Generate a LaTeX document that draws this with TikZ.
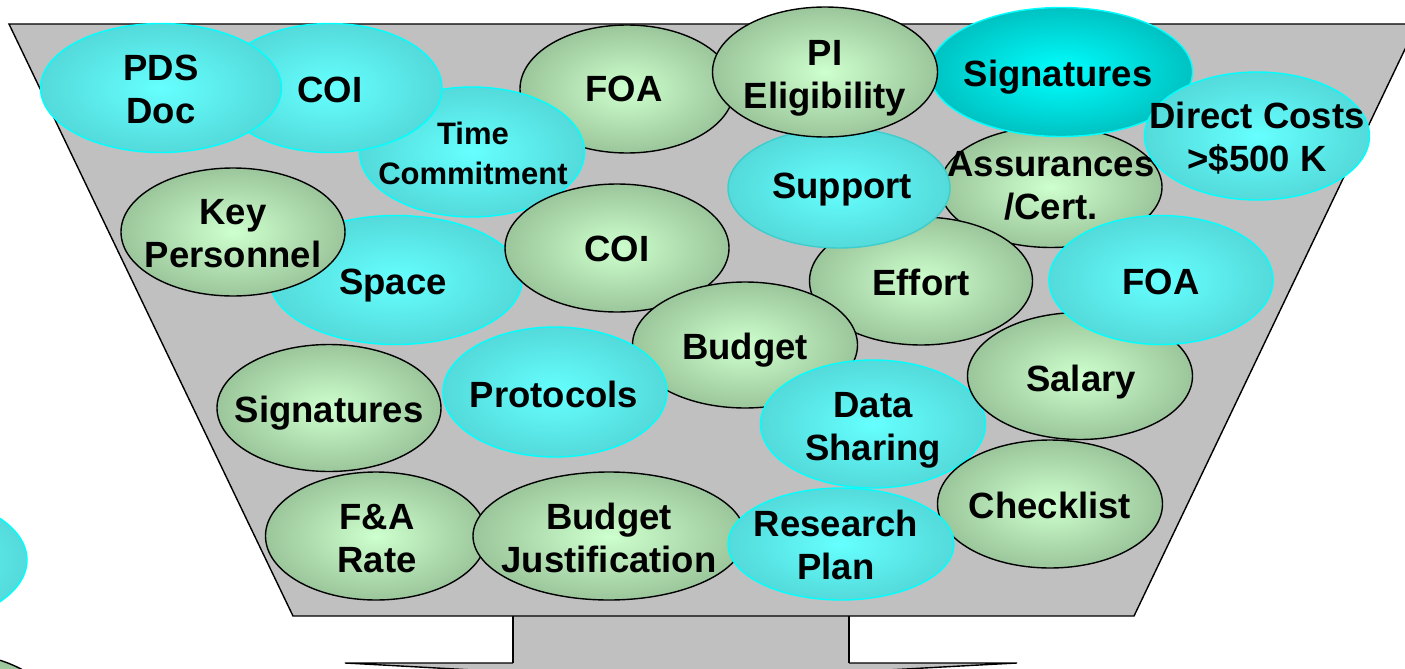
\documentclass[tikz,border=0pt]{standalone}
\usepackage{fontspec}
\setmainfont{Liberation Sans}
\usetikzlibrary{shapes.geometric}
\definecolor{fgray}{RGB}{192,192,192}
\definecolor{gin}{RGB}{206,255,206}
\definecolor{gout}{RGB}{155,198,155}
\definecolor{cin}{RGB}{102,255,255}
\definecolor{cout}{RGB}{84,218,218}
\definecolor{tin}{RGB}{0,255,255}
\definecolor{tout}{RGB}{0,194,194}
\definecolor{cline}{RGB}{0,255,255}
\definecolor{sline}{RGB}{60,205,205}
\begin{document}
\begin{tikzpicture}[x=1pt,y=-1pt,
  bub/.style={ellipse, inner sep=0pt, line width=1.4pt},
  gbub/.style={bub, draw=black, inner color=gin, outer color=gout},
  cbub/.style={bub, draw=cline, inner color=cin, outer color=cout},
  sbub/.style={bub, draw=sline, inner color=cin, outer color=cout},
  tbub/.style={bub, draw=cline, inner color=tin, outer color=tout},
  lbl/.style={align=center, inner sep=0pt, text depth=0pt, font=\bfseries\fontsize{36.5}{43}\selectfont},
  slbl/.style={align=center, inner sep=0pt, text depth=0pt, font=\bfseries\fontsize{31}{40}\selectfont},
  fun/.style={line width=1.4pt, draw=black, fill=fgray}
]
\useasboundingbox (0,0) rectangle (1405,669);
\clip (0,0) rectangle (1405,669);

% partial bubbles at the left edge
\node[cbub, minimum width=224pt, minimum height=128pt] (lc) at (-85,560) {};
\node[gbub, minimum width=224pt, minimum height=128pt] (lg) at (-55,716) {};

% base, stem, funnel
\draw[fun] (345,663) -- (1017,663) .. controls (900,669) and (800,676) .. (681,677) .. controls (560,676) and (460,669) .. (345,663) -- cycle;
\fill[fgray] (513,610) rectangle (849,675);
\draw[line width=1.4pt] (513,610) -- (513,663) (849,610) -- (849,663);
\draw[fun] (9,24) -- (1417,24) -- (1134,616) -- (293,616) -- cycle;

% bubbles, back to front
\node[gbub, minimum width=214pt, minimum height=128pt] (foag) at (627,89) {};
\node[lbl] (tfoag) at (624,89) {FOA};

\node[cbub, minimum width=225pt, minimum height=130pt] (tc) at (472,152) {};
\node[slbl] (ttc) at (473,153) {Time\\Commitment};

\node[cbub, minimum width=224pt, minimum height=129pt] (coic) at (330,88) {};
\node[lbl] (tcoic) at (330,90) {COI};

\node[cbub, minimum width=241pt, minimum height=129pt] (pds) at (161,88) {};
\node[lbl] (tpds) at (161,89) {PDS\\Doc};

\node[gbub, minimum width=222pt, minimum height=121pt] (ass) at (1051,187) {};
\node[lbl] (tass) at (1051,185) {Assurances\\/Cert.};

\node[gbub, minimum width=223pt, minimum height=128pt] (eff) at (921,281) {};
\node[lbl] (teff) at (921,282) {Effort};

\node[sbub, minimum width=222pt, minimum height=120pt] (sup) at (839,188) {};
\node[lbl] (tsup) at (842,186) {Support};

\node[tbub, minimum width=263pt, minimum height=129pt] (sigt) at (1061,72) {};
\node[lbl] (tsigt) at (1058,73) {Signatures};

\node[gbub, minimum width=225pt, minimum height=130pt] (pi) at (825,72) {};
\node[lbl] (tpi) at (825,74) {PI\\Eligibility};

\node[cbub, minimum width=225pt, minimum height=128pt] (dc) at (1257,136) {};
\node[lbl] (tdc) at (1257,137) {Direct Costs\\>\$500 K};

\node[cbub, minimum width=252pt, minimum height=129pt] (spc) at (396,280) {};
\node[lbl] (tspc) at (393,282) {Space};

\node[gbub, minimum width=224pt, minimum height=128pt] (coig) at (617,248) {};
\node[lbl] (tcoig) at (617,249) {COI};

\node[gbub, minimum width=224pt, minimum height=128pt] (kp) at (233,232) {};
\node[lbl] (tkp) at (233,233) {Key\\Personnel};

\node[gbub, minimum width=225pt, minimum height=126pt] (bud) at (745,345) {};
\node[lbl] (tbud) at (745,346) {Budget};

\node[cbub, minimum width=224pt, minimum height=130pt] (pro) at (555,392) {};
\node[lbl] (tpro) at (554,394) {Protocols};

\node[gbub, minimum width=224pt, minimum height=127pt] (sigl) at (329,408) {};
\node[lbl] (tsigl) at (329,409) {Signatures};

\node[cbub, minimum width=225pt, minimum height=128pt] (ds) at (873,424) {};
\node[lbl] (tds) at (873,426) {Data\\Sharing};

\node[gbub, minimum width=225pt, minimum height=127pt] (sal) at (1080,376) {};
\node[lbl] (tsal) at (1081,378) {Salary};

\node[cbub, minimum width=224pt, minimum height=129pt] (foac) at (1161,280) {};
\node[lbl] (tfoac) at (1161,282) {FOA};

\node[gbub, minimum width=225pt, minimum height=128pt] (chk) at (1050,504) {};
\node[lbl] (tchk) at (1050,505) {Checklist};

\node[gbub, minimum width=221pt, minimum height=128pt] (fa) at (376,536) {};
\node[lbl] (tfa) at (377,538) {F\&A\\Rate};

\node[gbub, minimum width=272pt, minimum height=128pt] (bj) at (609,536) {};
\node[lbl] (tbj) at (609,538) {Budget\\Justification};

\node[cbub, minimum width=226pt, minimum height=112pt] (rp) at (841,544) {};
\node[lbl] (trp) at (836,545) {Research\\Plan};
\end{tikzpicture}
\end{document}
